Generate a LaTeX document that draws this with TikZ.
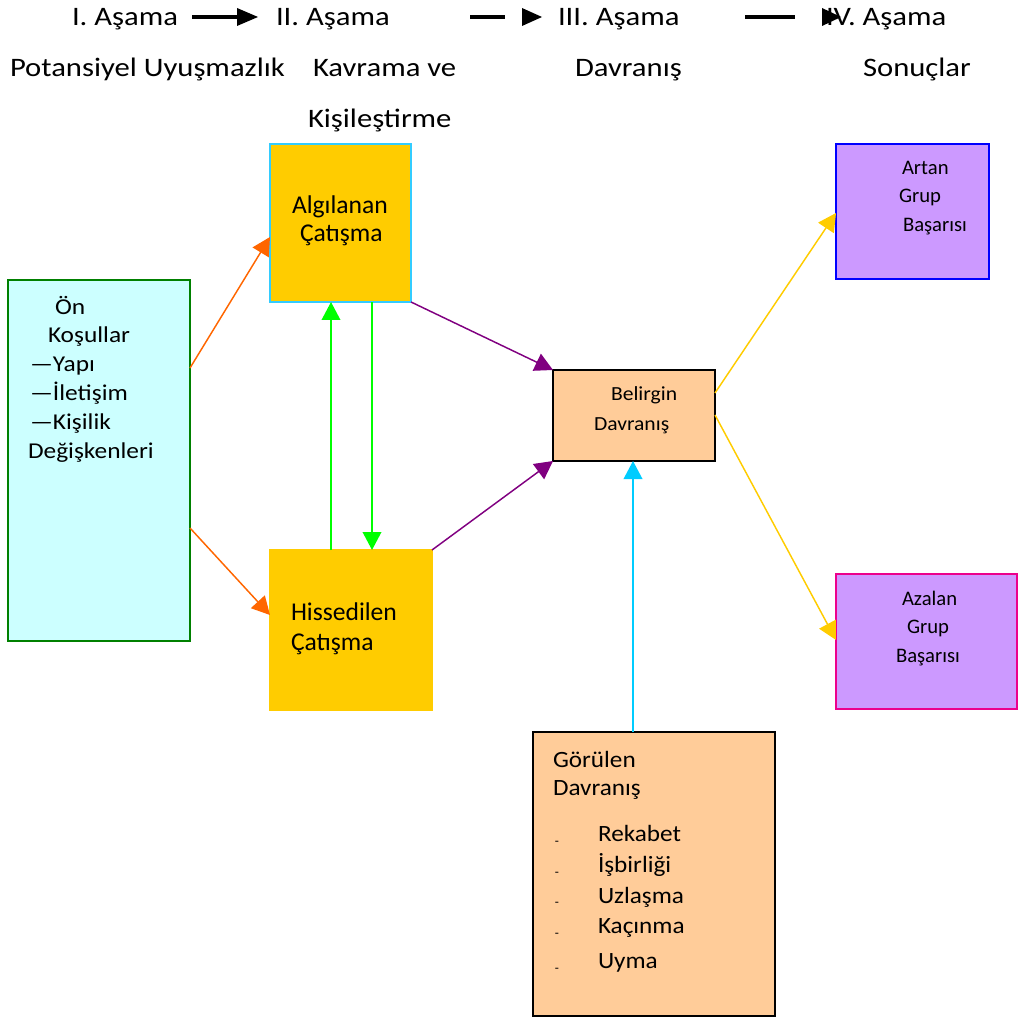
\documentclass[tikz,border=0pt]{standalone}
\usepackage{fontspec}
\setmainfont{Carlito}
\newfontfamily\widefont{Carlito}[FakeStretch=1.15]
\newfontfamily\prefont{Carlito}[FakeStretch=1.12]
\newfontfamily\midfont{Carlito}[FakeStretch=1.08]
\usetikzlibrary{arrows.meta}
\definecolor{precyan}{HTML}{CCFFFF}
\definecolor{pregreen}{HTML}{008000}
\definecolor{goldfill}{HTML}{FFCC00}
\definecolor{skyline}{HTML}{33CCFF}
\definecolor{peach}{HTML}{FFCC99}
\definecolor{lilac}{HTML}{CC99FF}
\definecolor{orangeline}{HTML}{FF6600}
\definecolor{greenline}{HTML}{00FF00}
\definecolor{purpleline}{HTML}{800080}
\definecolor{cyanline}{HTML}{00CCFF}
\begin{document}
\begin{tikzpicture}[x=0.75pt,y=-0.75pt,
  box/.style={draw, line width=1.1pt, anchor=north west, inner sep=0pt, outer sep=0pt},
  txt/.style={anchor=base west, inner sep=0pt, outer sep=0pt},
  hdrtxt/.style={txt, font=\widefont\fontsize{20}{22}\selectfont},
  pretxt/.style={txt, font=\prefont\fontsize{17}{20}\selectfont},
  conftxt/.style={txt, font=\fontsize{19.2}{22}\selectfont},
  beltxt/.style={txt, font=\midfont\fontsize{15}{18}\selectfont},
  gortxt/.style={txt, font=\midfont\fontsize{17.5}{20}\selectfont},
  restxt/.style={txt, font=\fontsize{15.5}{18}\selectfont},
  dashtxt/.style={anchor=center, inner sep=0pt, font=\fontsize{10}{10}\selectfont},
  conn/.style={line width=1.1pt, -{Triangle[length=13.5pt, width=14pt]}},
  hdrline/.style={line width=2.6pt}
]
\useasboundingbox (0,0) rectangle (1023,1019);

% ---------- header ----------
\node[hdrtxt] (h1) at (72,26) {I. Aşama};
\node[hdrtxt] (h2) at (276,26) {II. Aşama};
\node[hdrtxt] (h3) at (558,26) {III. Aşama};
\node[hdrtxt] (h4) at (826,26) {IV. Aşama};
\node[hdrtxt] (s1) at (10,77) {Potansiyel Uyuşmazlık};
\node[hdrtxt] (s2) at (313,77) {Kavrama ve};
\node[hdrtxt] (s2b) at (308,128) {Kişileştirme};
\node[hdrtxt] (s3) at (575,77) {Davranış};
\node[hdrtxt] (s4) at (863,77) {Sonuçlar};

\draw[hdrline] (192,17) -- (238,17);
\fill (237,8) -- (258,17) -- (237,26) -- cycle;
\draw[hdrline] (470,17) -- (505,17);
\fill (522,8) -- (542,17) -- (522,26) -- cycle;
\draw[hdrline] (745,17) -- (795,17);
\fill (822,8) -- (841,17) -- (822,26) -- cycle;

% ---------- boxes ----------
\node[box, fill=precyan, draw=pregreen, minimum width={182*0.75pt}, minimum height={361*0.75pt}] (pre) at (8,280) {};
\node[box, fill=goldfill, draw=skyline, minimum width={141*0.75pt}, minimum height={158*0.75pt}] (alg) at (270,144) {};
\node[box, fill=goldfill, draw=goldfill, minimum width={162*0.75pt}, minimum height={160*0.75pt}] (his) at (270,550) {};
\node[box, fill=peach, draw=black, minimum width={162*0.75pt}, minimum height={91*0.75pt}] (bel) at (553,370) {};
\node[box, fill=peach, draw=black, minimum width={242*0.75pt}, minimum height={284*0.75pt}] (gor) at (533,732) {};
\node[box, fill=lilac, draw=blue, minimum width={153*0.75pt}, minimum height={135*0.75pt}] (art) at (836,144) {};
\node[box, fill=lilac, draw=magenta, minimum width={181*0.75pt}, minimum height={135*0.75pt}] (aza) at (836,574) {};

% ---------- box texts ----------
\node[pretxt] (p1) at (55,315) {Ön};
\node[pretxt] (p2) at (48,343) {Koşullar};
\node[pretxt] (p3) at (30,372) {—Yapı};
\node[pretxt] (p4) at (30,400) {—İletişim};
\node[pretxt] (p5) at (30,429) {—Kişilik};
\node[pretxt] (p6) at (28,458) {Değişkenleri};

\node[conftxt] (a1) at (292,214) {Algılanan};
\node[conftxt] (a2) at (300,242) {Çatışma};

\node[conftxt] (hs1) at (291,620) {Hissedilen};
\node[conftxt] (hs2) at (291,650) {Çatışma};

\node[beltxt] (b1) at (611,401) {Belirgin};
\node[beltxt] (b2) at (594,430) {Davranış};

\node[gortxt] (g1) at (553,767) {Görülen};
\node[gortxt] (g2) at (553,795) {Davranış};
\node[gortxt] (g3) at (598,841) {Rekabet};
\node[gortxt] (g4) at (598,872) {İşbirliği};
\node[gortxt] (g5) at (598,903) {Uzlaşma};
\node[gortxt] (g6) at (598,933) {Kaçınma};
\node[gortxt] (g7) at (598,968) {Uyma};
\node[dashtxt] (d1) at (557,843) {-};
\node[dashtxt] (d2) at (557,874) {-};
\node[dashtxt] (d3) at (557,904) {-};
\node[dashtxt] (d4) at (557,935) {-};
\node[dashtxt] (d5) at (557,970) {-};

\node[restxt] (r1) at (902,175) {Artan};
\node[restxt] (r2) at (899,203) {Grup};
\node[restxt] (r3) at (903,232) {Başarısı};

\node[restxt] (z1) at (902,605) {Azalan};
\node[restxt] (z2) at (907,633) {Grup};
\node[restxt] (z3) at (896,662) {Başarısı};

% ---------- connectors ----------
\draw[conn, orangeline] ([yshift=-66pt]pre.north east) -- ([yshift=-69.75pt]alg.north west);
\draw[conn, orangeline] ([yshift=-186pt]pre.north east) -- ([yshift=-48.75pt]his.north west);
\draw[conn, greenline] ([xshift=45.75pt]his.north west) -- ([xshift=45.75pt]alg.south west);
\draw[conn, greenline] ([xshift=76.5pt]alg.south west) -- ([xshift=76.5pt]his.north west);
\draw[conn, purpleline] (alg.south east) -- (bel.north west);
\draw[conn, purpleline] (his.north east) -- (bel.south west);
\draw[conn, cyanline] ([xshift=75pt]gor.north west) -- ([xshift=60pt]bel.south west);
\draw[conn, goldfill] ([yshift=-17.25pt]bel.north east) -- ([yshift=-51.75pt]art.north west);
\draw[conn, goldfill] ([yshift=-33.75pt]bel.north east) -- ([yshift=-49.5pt]aza.north west);
\end{tikzpicture}
\end{document}
